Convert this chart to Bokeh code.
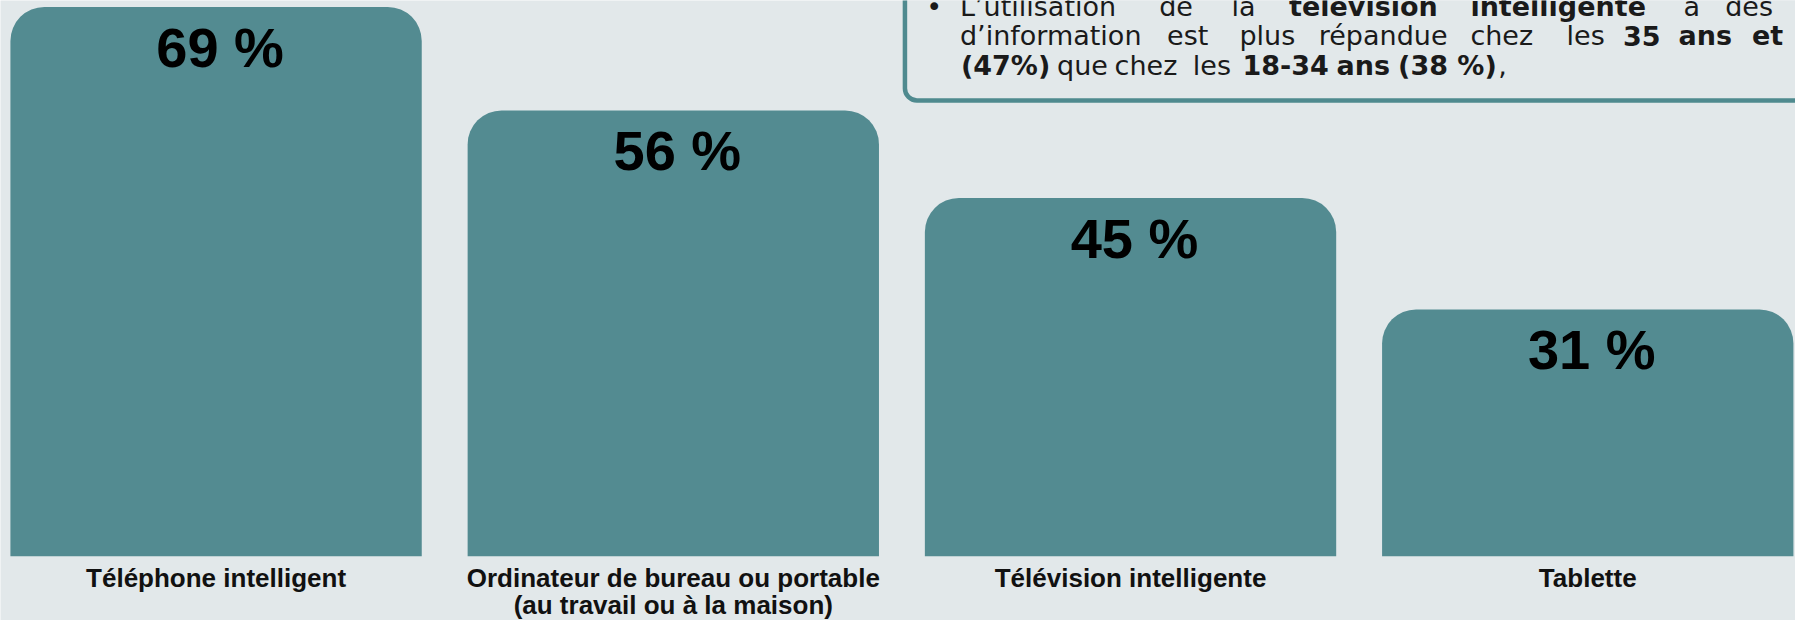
from bokeh.plotting import figure
from bokeh.models import ColumnDataSource, Range1d
from bokeh.transform import dodge
from bokeh.core.properties import value
from bokeh.embed import file_html
from bokeh.resources import INLINE

# ---------------- data ----------------
categories = [
    "Téléphone intelligent",
    "Ordinateur de bureau ou portable\n(au travail ou à la maison)",
    "Télévision intelligente",
    "Tablette",
]
values = [69, 56, 45, 31]
value_labels = ["69 %", "56 %", "45 %", "31 %"]

# annotation box text (words, weight)
note_lines = [
    [("L’utilisation", "n"), ("de", "n"), ("la", "n"), ("télévision", "b"),
     ("intelligente", "b"), ("à", "n"), ("des", "n")],
    [("d’information", "n"), ("est", "n"), ("plus", "n"), ("répandue", "n"),
     ("chez", "n"), ("les", "n"), ("35", "b"), ("ans", "b"), ("et", "b")],
    [("(47%)", "b"), ("que", "n"), ("chez", "n"), ("les", "n"), ("18-34", "b"),
     ("ans", "b"), ("(38 %)", "b"), (",", "n")],
]

# ---------------- layout / style ----------------
W, H = 1795, 620
BG = "#e2e8ea"
BAR = "#538b91"
SX = W / 1811.0
SY = 0.984


def hx(ref_x):
    return ref_x * SX


def hy(ref_y):
    return ref_y * SY


# word left positions (reference picture coordinates)
note_x = [
    [968, 1169, 1242, 1300, 1483, 1698, 1740],
    [968, 1177, 1250, 1330, 1483, 1580, 1637, 1693, 1767],
    [969, 1066, 1124, 1203, 1253, 1348, 1410, 1511],
]
note_base = [14, 44, 74]
NOTE_FS, NOTE_FIX = 27, 0.30
PCT_FS, PCT_FIX = 56, 0.40
CAT_FS, CAT_FIX = 26, 0.36

pitch = 461.3 * SX
base_px = hy(564.7)
px_per_pct = (base_px - hy(6.5)) / 69.0
x0 = -hx(217.5) / pitch
y_top = base_px / px_per_pct
y_bot = -(H - base_px) / px_per_pct

p = figure(width=W, height=H, output_backend="svg", toolbar_location=None,
           x_range=Range1d(x0, x0 + W / pitch), y_range=Range1d(y_bot, y_top),
           x_axis_location=None, y_axis_location=None, min_border=0,
           background_fill_color=BG, border_fill_color=BG, outline_line_color=None)
p.xgrid.visible = False
p.ygrid.visible = False
p.extra_x_ranges = {"px": Range1d(0, W)}
p.extra_y_ranges = {"px": Range1d(H, 0)}

src = ColumnDataSource(dict(x=list(range(len(categories))), value=values, label=value_labels))

p.vbar(x="x", top="value", bottom=0, width=415 / 461.3, source=src,
       fill_color=BAR, line_color=None, border_radius=(34, 34, 0, 0))

pct_drop = (hy(64) - PCT_FIX * PCT_FS) / px_per_pct
p.text(x=dodge("x", 4 / pitch, range=p.x_range),
       y=dodge("value", -pct_drop, range=p.y_range),
       text="label", source=src, text_align="center", text_baseline="alphabetic",
       text_font=value("Liberation Sans"), text_font_style="bold",
       text_font_size=f"{PCT_FS}px", text_color="#000000")

# category labels, one row per text line
cx, cy, ct = [], [], []
for i, c in enumerate(categories):
    for j, line in enumerate(c.split("\n")):
        cx.append(i)
        drop = hy(596) + 27 * j - base_px - CAT_FIX * CAT_FS
        cy.append(-drop / px_per_pct)
        ct.append(line)
p.text(x=cx, y=cy, text=ct, text_align="center", text_baseline="alphabetic",
       text_font=value("Liberation Sans"), text_font_style="bold",
       text_font_size=f"{CAT_FS}px", text_color="#111111")

# annotation box
p.quad(left=[hx(912.5)], right=[W + 100], top=[-100], bottom=[hy(101.5)],
       x_range_name="px", y_range_name="px", fill_color=BG, line_color="#4f8a8f",
       line_width=4.5, border_radius=12)

note_fix = NOTE_FIX * NOTE_FS
p.text(x=[hx(942)], y=[hy(note_base[0]) - note_fix], text=["•"], x_range_name="px",
       y_range_name="px", text_align="center", text_baseline="alphabetic",
       text_font=value("DejaVu Sans"), text_font_size=f"{NOTE_FS}px", text_color="#1a1a1a")

for style in ("n", "b"):
    xs, ys, ts = [], [], []
    for li, words in enumerate(note_lines):
        for (w, s), rx in zip(words, note_x[li]):
            if s == style:
                xs.append(hx(rx))
                ys.append(hy(note_base[li]) - note_fix)
                ts.append(w)
    p.text(x=xs, y=ys, text=ts, x_range_name="px", y_range_name="px",
           text_align="left", text_baseline="alphabetic",
           text_font=value("DejaVu Sans"),
           text_font_style="bold" if style == "b" else "normal",
           text_font_size=f"{NOTE_FS}px", text_color="#1a1a1a")

open("out.html", "w").write(file_html(p, INLINE))
